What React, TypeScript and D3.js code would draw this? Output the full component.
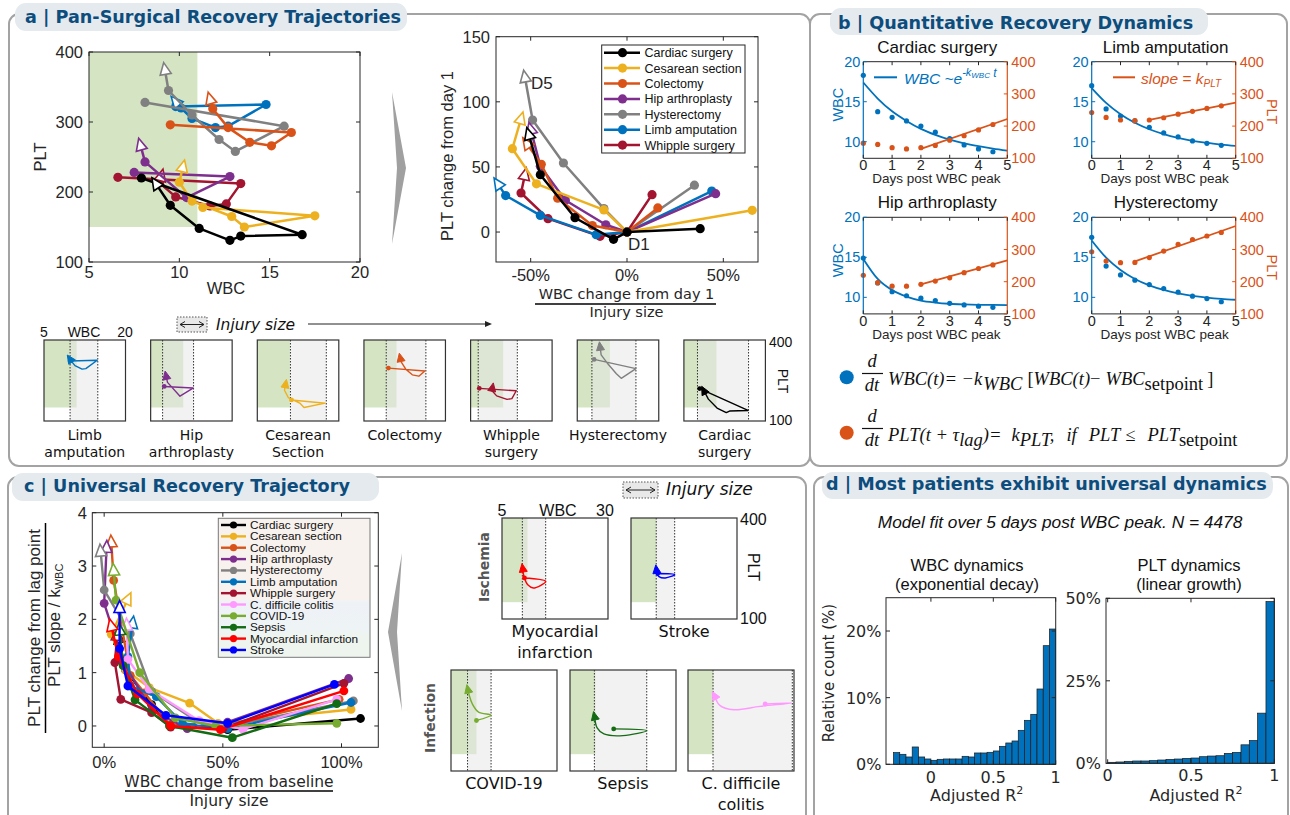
import React from 'react';
import * as d3 from 'd3';

const ARIAL = '"Liberation Sans", Arial, Helvetica, sans-serif';
const VERD = '"DejaVu Sans", Verdana, sans-serif';
const SERIF = '"Liberation Serif", "DejaVu Serif", serif';
const NAVY = '#0d4d7d';
const GREEN = '#d5e5c3';
const AX = '#262626';
const BLUE = '#0072BD';
const ORANGE = '#D95319';

// ---------- panel a ----------
const surgeries = ['Cardiac surgery', 'Cesarean section', 'Colectomy', 'Hip arthroplasty', 'Hysterectomy', 'Limb amputation', 'Whipple surgery'];
const surgeryColors = ['#000000', '#EDB120', '#D95319', '#7E2F8E', '#808080', '#0072BD', '#A2142F'];

// [WBC, PLT] from first dot to arrow
const trajCardiac = [[7.9, 220], [16.8, 139], [13.4, 137], [12.8, 131], [11.1, 148], [9.5, 181], [8.7, 212]];
const trajCesarean = [[11.3, 178], [17.5, 166], [13.6, 150], [12.9, 165], [10.7, 187], [10.0, 214], [10.2, 236]];
const trajColectomy = [[9.5, 296], [16.2, 285], [15.1, 266], [13.9, 271], [12.7, 292], [11.85, 319], [11.7, 333]];
const trajHip = [[7.5, 228], [12.8, 222], [10.4, 192], [8.1, 243], [7.85, 267]];
const trajHyst = [[8.1, 328], [15.8, 294], [13.1, 258], [12.2, 275], [10.7, 310], [9.4, 345], [9.2, 375]];
const trajLimb = [[9.8, 322], [14.8, 325], [12.7, 294], [12.0, 292], [10.7, 305], [10.1, 320], [9.8, 329]];
const trajWhipple = [[6.6, 221], [13.4, 212], [12.6, 183], [11.7, 180], [9.8, 193], [8.9, 213], [9.0, 223]];
const surgeryTraj = [trajCardiac, trajCesarean, trajColectomy, trajHip, trajHyst, trajLimb, trajWhipple];

// [WBC change / injury size, PLT change from day 1]
const normCardiac = [[0.38, 2.6], [0, 0], [-0.07, -5.6], [-0.27, 11], [-0.45, 44], [-0.51, 75]];
const normCesarean = [[0.65, 16.7], [0, 0], [-0.12, 17], [-0.47, 37], [-0.595, 64], [-0.55, 87]];
const normColectomy = [[0.16, 18.5], [0, 0], [-0.18, 5], [-0.36, 26], [-0.445, 52], [-0.52, 68]];
const normHip = [[0.46, 29.5], [0, 0], [-0.11, 5.6], [-0.32, 24.4], [-0.45, 50.5], [-0.5, 79]];
const normHyst = [[0.35, 36], [0, 0], [-0.12, 18], [-0.33, 53], [-0.49, 86], [-0.53, 119]];
const normLimb = [[0.44, 31.5], [0, 0], [-0.16, -2], [-0.45, 12.8], [-0.63, 28], [-0.67, 37]];
const normWhipple = [[0.13, 28.7], [0, 0], [-0.14, -3.3], [-0.41, 10.3], [-0.55, 30], [-0.53, 44]];
const surgeryNorm = [normCardiac, normCesarean, normColectomy, normHip, normHyst, normLimb, normWhipple];

// injury size band (WBC from -> to) for the small multiples
const injuryBandsA = [[7.5, 16.9], [11.1, 17.7], [9.1, 16.4], [7.2, 12.9], [7.7, 15.8], [9.8, 14.9], [6.4, 13.6]];
const smallOrder = ['Limb amputation', 'Hip arthroplasty', 'Cesarean section', 'Colectomy', 'Whipple surgery', 'Hysterectomy', 'Cardiac surgery'];
const smallLabels = [['Limb', 'amputation'], ['Hip', 'arthroplasty'], ['Cesarean', 'Section'], ['Colectomy'], ['Whipple', 'surgery'], ['Hysterectomy'], ['Cardiac', 'surgery']];

// ---------- panel b ----------
const bTitles = ['Cardiac surgery', 'Limb amputation', 'Hip arthroplasty', 'Hysterectomy'];
const dotDays = [0, 0.5, 1, 1.5, 2, 2.5, 3, 3.5, 4, 4.5];
const fitDays = [0, 0.5, 1, 1.5, 2, 2.5, 3, 3.5, 4, 4.5, 5];
const wbcDots = [
  [18.3, 13.75, 13.05, 12.6, 11.96, 11.2, 10.4, 9.6, 9.1, 8.75],
  [17.0, 14.1, 13.2, 12.6, 11.8, 11.1, 10.6, 10.1, 9.8, 9.55],
  [14.9, 11.8, 10.7, 10.2, 9.9, 9.6, 9.25, 9.05, 8.9, 8.75],
  [17.5, 13.9, 12.8, 12.15, 11.6, 11.1, 10.65, 10.15, 9.85, 9.45],
];
const pltDots = [
  [147, 143, 133, 129, 133, 140, 156, 170, 188, 205],
  [242, 227, 219, 217, 219, 226, 237, 246, 255, 263],
  [220, 197, 186, 186, 192, 202, 212, 228, 241, 252],
  [293, 264, 259, 260, 275, 295, 316, 331, 342, 353],
];
const wbcFit = [
  [17.4, 15.4, 13.8, 12.6, 11.6, 10.85, 10.25, 9.8, 9.45, 9.15, 8.9],
  [16.7, 14.85, 13.44, 12.37, 11.56, 10.95, 10.48, 10.12, 9.85, 9.65, 9.49],
  [14.8, 12.3, 10.9, 10.1, 9.6, 9.35, 9.2, 9.12, 9.07, 9.05, 9.03],
  [17.1, 14.96, 13.42, 12.3, 11.5, 10.92, 10.5, 10.19, 9.97, 9.81, 9.7],
];
// [lag day, PLT at lag, PLT at day 5]
const pltFit = [[2, 129, 222], [2, 219, 273], [2, 192, 266], [1.5, 263, 373]];

// ---------- panel c ----------
const conditions = ['Cardiac surgery', 'Cesarean section', 'Colectomy', 'Hip arthroplasty', 'Hysterectomy', 'Limb amputation', 'Whipple surgery', 'C. difficile colitis', 'COVID-19', 'Sepsis', 'Myocardial infarction', 'Stroke'];
const conditionColors = ['#000000', '#EDB120', '#D95319', '#7E2F8E', '#808080', '#0072BD', '#A2142F', '#FF99FF', '#77AC30', '#136B13', '#FF0000', '#0000FF'];
const uCardiac = [[1.08, 0.14], [0.52, -0.07], [0.40, 0.03], [0.28, 0.0], [0.20, 0.40], [0.09, 1.05], [0.06, 1.65]];
const uCesarean = [[1.04, 0.31], [0.48, 0.05], [0.36, 0.43], [0.19, 0.72], [0.09, 1.05], [0.03, 1.72], [0.10, 2.38]];
const uColectomy = [[0.99, 0.5], [0.50, 0.0], [0.28, 0.02], [0.17, 0.62], [0.11, 0.95], [0.04, 2.73], [0.03, 3.45]];
const uHip = [[1.03, 0.89], [0.52, 0.07], [0.35, -0.05], [0.20, 0.30], [0.08, 1.2], [0.0, 2.3], [0.01, 3.35]];
const uHyst = [[1.05, 0.47], [0.55, 0.02], [0.40, 0.06], [0.20, 0.65], [0.11, 1.73], [0.0, 2.55], [-0.015, 3.28]];
const uLimb = [[1.04, 0.44], [0.52, -0.05], [0.33, 0.05], [0.22, 0.55], [0.11, 0.75], [0.10, 1.3], [0.12, 1.93]];
const uWhipple = [[1.01, 0.8], [0.50, -0.05], [0.28, -0.02], [0.20, 0.25], [0.07, 0.5], [0.045, 1.19], [0.055, 1.7]];
const uCdiff = [[0.98, 0.5], [0.585, -0.06], [0.40, 0.10], [0.19, 0.69], [0.10, 1.25], [0.095, 1.89]];
const uCovid = [[0.98, 0.05], [0.47, 0.0], [0.30, 0.15], [0.15, 1.0], [0.05, 2.36], [0.04, 2.92]];
const uSepsis = [[0.98, 0.42], [0.54, -0.22], [0.275, 0.0], [0.13, 0.49], [0.08, 1.13], [0.065, 1.8]];
const uMI = [[1.01, 0.66], [0.49, -0.07], [0.28, 0.0], [0.14, 0.6], [0.06, 1.3], [0.03, 1.88]];
const uStroke = [[0.97, 0.78], [0.52, 0.05], [0.26, 0.2], [0.10, 0.75], [0.065, 1.45], [0.065, 2.22]];
const universal = [uCardiac, uCesarean, uColectomy, uHip, uHyst, uLimb, uWhipple, uCdiff, uCovid, uSepsis, uMI, uStroke];

const miniC = ['Myocardial infarction', 'Stroke', 'COVID-19', 'Sepsis', 'C. difficile colitis'];
const miniCLabels = [['Myocardial', 'infarction'], ['Stroke'], ['COVID-19'], ['Sepsis'], ['C. difficile', 'colitis']];
const miniCBands = [[9.8, 15.3], [10.95, 15.3], [8.9, 14.45], [10.75, 23.1], [10.9, 29.6]];
const miniCTraj = [
  [[10.3, 222], [15.3, 212], [12.4, 192], [11.2, 200], [10.2, 225], [9.9, 250]],
  [[11.3, 235], [15.3, 232], [13.1, 222], [11.6, 226], [11.1, 236], [11.0, 246]],
  [[11.0, 250], [14.4, 266], [11.5, 275], [10.0, 300], [9.3, 325], [9.0, 342]],
  [[15.3, 225], [23.1, 220], [17.5, 205], [13.0, 210], [11.4, 228], [10.8, 262]],
  [[23.2, 299], [29.4, 302], [22.0, 292], [15.8, 282], [12.5, 295], [11.3, 323]],
];

// ---------- panel d ----------
const wbcR2Start = -0.3;
const pltR2Start = 0;
const r2BinWidth = 0.05;
const wbcR2Counts = [1.75, 1.5, 1.1, 2.6, 1.1, 0.8, 0.6, 0.75, 0.8, 0.8, 0.8, 1.2, 1.1, 1.7, 1.7, 1.8, 2.0, 2.7, 3.2, 3.5, 5.1, 6.6, 7.5, 11.3, 17.8, 20.3];
const pltR2Counts = [0.3, 0.4, 0.6, 0.7, 0.7, 0.8, 1.0, 1.2, 1.3, 1.5, 1.6, 2.0, 2.2, 2.3, 3.0, 3.3, 5.6, 6.9, 15.2, 49.0];

// ---------- helpers ----------
function triPath(x: number, y: number, ang: number, s: number) {
  const c = Math.cos(ang), n = Math.sin(ang);
  const p = (a: number, b: number) => `${x + a * c - b * n},${y + a * n + b * c}`;
  return `M${p(s, 0)}L${p(-0.7 * s, 0.8 * s)}L${p(-0.7 * s, -0.8 * s)}Z`;
}

function Traj({ pts, xs, ys, color, lw, r, ts, open, dots, curve }: any) {
  const px = pts.map((d: number[]) => [xs(d[0]), ys(d[1])]);
  const n = px.length;
  const gen = d3.line().curve(curve || d3.curveLinear);
  const ang = Math.atan2(px[n - 1][1] - px[n - 2][1], px[n - 1][0] - px[n - 2][0]);
  const dp = dots ? px.slice(0, n - 1) : [px[0]];
  return (
    <g>
      <path d={gen(px) || ''} fill="none" stroke={color} strokeWidth={lw} strokeLinejoin="round" strokeLinecap="round" />
      {dp.map((p: number[], k: number) => <circle key={k} cx={p[0]} cy={p[1]} r={r} fill={color} />)}
      <path d={triPath(px[n - 1][0], px[n - 1][1], ang, ts)} fill={open ? '#fff' : color} stroke={color} strokeWidth={open ? 1.6 : 1} />
    </g>
  );
}

function Frame({ xs, ys, xt, yt, len = 4 }: any) {
  const [x0, x1] = xs.range();
  const [y0, y1] = ys.range();
  return (
    <g stroke={AX} strokeWidth={1} fill="none">
      <rect x={x0} y={y1} width={x1 - x0} height={y0 - y1} />
      {xt.map((t: number) => <path key={'x' + t} d={`M${xs(t)},${y0}v${-len}M${xs(t)},${y1}v${len}`} />)}
      {yt.map((t: number) => <path key={'y' + t} d={`M${x0},${ys(t)}h${len}M${x1},${ys(t)}h${-len}`} />)}
    </g>
  );
}

function Mini({ x0, y0, w, h, xmax, band, pts, color, smooth }: any) {
  const sx = d3.scaleLinear().domain([5, xmax]).range([x0, x0 + w]);
  const sy = d3.scaleLinear().domain([100, 400]).range([y0 + h, y0]);
  return (
    <g>
      <rect x={x0} y={y0} width={w} height={h} fill="#fff" />
      <rect x={sx(5)} y={sy(400)} width={sx(11) - sx(5)} height={sy(150) - sy(400)} fill={GREEN} />
      <rect x={sx(band[0])} y={y0} width={sx(band[1]) - sx(band[0])} height={h} fill="#e6e6e6" opacity={0.5} />
      <path d={`M${sx(band[0])},${y0}V${y0 + h}M${sx(band[1])},${y0}V${y0 + h}`} stroke="#333" strokeWidth={1} strokeDasharray="1.5,1.5" />
      <Traj pts={pts} xs={sx} ys={sy} color={color} lw={1.4} r={2.4} ts={5} open={false} dots={false} curve={smooth ? d3.curveCatmullRom : d3.curveLinear} />
      <rect x={x0} y={y0} width={w} height={h} fill="none" stroke="#333" strokeWidth={1.2} />
    </g>
  );
}

function InjuryIcon({ x, y, w, h }: any) {
  const cy = y + h / 2;
  return (
    <g>
      <rect x={x} y={y} width={w} height={h} fill="#e8e8e8" stroke="#555" strokeDasharray="1.5,1.5" />
      <path d={`M${x + 3},${cy}H${x + w - 3}`} stroke="#222" strokeWidth={1} />
      <path d={`M${x + 3},${cy}l5,-3M${x + 3},${cy}l5,3M${x + w - 3},${cy}l-5,-3M${x + w - 3},${cy}l-5,3`} stroke="#222" strokeWidth={1} fill="none" />
    </g>
  );
}

// ---------- panels ----------
function Frames() {
  const boxes = [
    { x: 9, y: 14, w: 801, h: 452 },
    { x: 810, y: 14, w: 477, h: 452 },
    { x: 8, y: 477, w: 798, h: 360 },
    { x: 814, y: 477, w: 474, h: 360 },
  ];
  const tabs = [
    { x: 15, y: 3, w: 392, h: 28, tx: 25, ty: 23, s: 'a | Pan-Surgical Recovery Trajectories' },
    { x: 830, y: 8, w: 378, h: 27, tx: 838, ty: 28.5, s: 'b | Quantitative Recovery Dynamics' },
    { x: 12, y: 473, w: 367, h: 28, tx: 24, ty: 491.5, s: 'c | Universal Recovery Trajectory' },
    { x: 822, y: 472, w: 451, h: 27, tx: 826, ty: 490, s: 'd | Most patients exhibit universal dynamics' },
  ];
  return (
    <g>
      {boxes.map((b, i) => <rect key={i} x={b.x} y={b.y} width={b.w} height={b.h} rx={10} fill="none" stroke="#a3a3a3" strokeWidth={2} />)}
      {tabs.map((t, i) => (
        <g key={i}>
          <rect x={t.x} y={t.y} width={t.w} height={t.h} rx={11} fill="#e4eaee" />
          <text x={t.tx} y={t.ty} fontFamily={VERD} fontWeight="bold" fontSize={17.6} fill={NAVY}>{t.s}</text>
        </g>
      ))}
      <path d="M392,92 L406,168 L392,244 L397,168 Z" fill="#a0a0a0" />
      <path d="M402,553 L388,632 L402,711 L397,632 Z" fill="#a0a0a0" />
    </g>
  );
}

function PanelA() {
  const xs = d3.scaleLinear().domain([5, 20]).range([89, 360]);
  const ys = d3.scaleLinear().domain([100, 400]).range([262, 52]);
  const xr = d3.scaleLinear().domain([-0.68, 0.68]).range([496, 758]);
  const yr = d3.scaleLinear().domain([-23, 150]).range([262, 36.7]);
  const order = d3.range(surgeries.length).reverse();
  return (
    <g>
      {/* left scatter */}
      <rect x={xs(5)} y={ys(400)} width={xs(11) - xs(5)} height={ys(150) - ys(400)} fill={GREEN} />
      <Frame xs={xs} ys={ys} xt={[5, 10, 15, 20]} yt={[100, 200, 300, 400]} />
      {order.map(i => <Traj key={i} pts={surgeryTraj[i]} xs={xs} ys={ys} color={surgeryColors[i]} lw={2.5} r={4.6} ts={7} open dots />)}
      <g fontFamily={ARIAL} fontSize={16.5} fill="#262626">
        {[5, 10, 15, 20].map(t => <text key={t} x={xs(t)} y={278} textAnchor="middle">{t}</text>)}
        {[100, 200, 300, 400].map(t => <text key={t} x={83} y={ys(t) + 6} textAnchor="end">{t}</text>)}
        <text x={226} y={294} textAnchor="middle">WBC</text>
        <text x={46} y={157} textAnchor="middle" transform="rotate(-90,46,157)">PLT</text>
      </g>

      {/* right normalized */}
      <Frame xs={xr} ys={yr} xt={[-0.5, 0, 0.5]} yt={[0, 50, 100, 150]} />
      {order.map(i => <Traj key={i} pts={surgeryNorm[i]} xs={xr} ys={yr} color={surgeryColors[i]} lw={2.5} r={4.6} ts={7} open dots />)}
      <g fontFamily={ARIAL} fontSize={16.5} fill="#262626">
        {[-0.5, 0, 0.5].map(t => <text key={t} x={xr(t)} y={281} textAnchor="middle">{t < 0 ? '-' : ''}{Math.abs(t * 100)}%</text>)}
        {[0, 50, 100, 150].map(t => <text key={t} x={490} y={yr(t) + 6} textAnchor="end">{t}</text>)}
        <text x={453} y={156} textAnchor="middle" transform="rotate(-90,453,156)">PLT change from day 1</text>
        <text x={531} y={88.5} fontSize={17}>D5</text>
        <text x={628} y={250} fontSize={17}>D1</text>
      </g>
      <g fontFamily={VERD} fontSize={14.5} fill="#262626">
        <text x={626.5} y={299} textAnchor="middle">WBC change from day 1</text>
        <line x1={535} x2={716} y1={304} y2={304} stroke="#000" strokeWidth={1.5} />
        <text x={626.5} y={316.5} textAnchor="middle">Injury size</text>
      </g>
      <rect x={601.7} y={45} width={143.3} height={108} fill="#fff" stroke={AX} />
      {surgeries.map((s, i) => {
        const y = 52.7 + i * 15.4;
        return (
          <g key={s}>
            <line x1={604} x2={640} y1={y} y2={y} stroke={surgeryColors[i]} strokeWidth={2.5} />
            <circle cx={622.5} cy={y} r={4.6} fill={surgeryColors[i]} />
            <text x={644.5} y={y + 4.5} fontFamily={ARIAL} fontSize={12.5} fill="#111">{s}</text>
          </g>
        );
      })}

      {/* small multiples */}
      {smallOrder.map((name, k) => {
        const i = surgeries.indexOf(name);
        const x0 = 44 + k * 106.65;
        return (
          <g key={name}>
            <Mini x0={x0} y0={340} w={81.5} h={81} xmax={20} band={injuryBandsA[i]} pts={surgeryTraj[i]} color={surgeryColors[i]} />
            {smallLabels[k].map((l, j) => (
              <text key={j} x={x0 + 40.75} y={440 + j * 17} textAnchor="middle" fontFamily={VERD} fontSize={14} fill="#111">{l}</text>
            ))}
          </g>
        );
      })}
      <g fontFamily={ARIAL} fontSize={14} fill="#111">
        <text x={44} y={337} textAnchor="middle">5</text>
        <text x={84} y={337} textAnchor="middle">WBC</text>
        <text x={125} y={337} textAnchor="middle">20</text>
        <text x={769} y={347}>400</text>
        <text x={769} y={425}>100</text>
        <text x={778} y={381} textAnchor="middle" transform="rotate(90,778,381)">PLT</text>
      </g>
      <InjuryIcon x={177} y={317} w={30} h={15} />
      <text x={216} y={330} fontFamily={VERD} fontStyle="italic" fontSize={15.5} fill="#111">Injury size</text>
      <line x1={308} x2={489} y1={324} y2={324} stroke="#222" strokeWidth={1} />
      <path d="M492,324 l-7,-3 v6 z" fill="#222" />
    </g>
  );
}

function DualChart({ k }: any) {
  const origins = [[863.3, 61.7], [1091.7, 61.7], [863.3, 217.3], [1091.7, 217.3]];
  const [ox, oy] = origins[k];
  const w = 144, h = 96.6;
  const xs = d3.scaleLinear().domain([0, 5]).range([ox, ox + w]);
  const yl = d3.scaleLinear().domain([7.93, 20]).range([oy + h, oy]);
  const yr = d3.scaleLinear().domain([100, 400]).range([oy + h, oy]);
  const fit = d3.line<number>().curve(d3.curveMonotoneX).x((d, i) => xs(fitDays[i])).y(d => yl(d));
  const [t0, p0, p1] = pltFit[k];
  const L = 3.5;
  return (
    <g>
      <path d={fit(wbcFit[k]) || ''} fill="none" stroke={BLUE} strokeWidth={1.8} />
      <line x1={xs(t0)} y1={yr(p0)} x2={xs(5)} y2={yr(p1)} stroke={ORANGE} strokeWidth={1.8} />
      {dotDays.map((t, i) => <circle key={'w' + i} cx={xs(t)} cy={yl(wbcDots[k][i])} r={2.6} fill={BLUE} />)}
      {dotDays.map((t, i) => <circle key={'p' + i} cx={xs(t)} cy={yr(pltDots[k][i])} r={2.6} fill={ORANGE} />)}
      <path d={`M${ox},${oy}H${ox + w}M${ox},${oy + h}H${ox + w}`} stroke={AX} strokeWidth={1} />
      <path d={`M${ox},${oy}V${oy + h}`} stroke={BLUE} strokeWidth={1.2} />
      <path d={`M${ox + w},${oy}V${oy + h}`} stroke={ORANGE} strokeWidth={1.2} />
      {[0, 1, 2, 3, 4, 5].map(t => <path key={t} d={`M${xs(t)},${oy + h}v${-L}M${xs(t)},${oy}v${L}`} stroke={AX} />)}
      {[10, 15, 20].map(t => <path key={t} d={`M${ox},${yl(t)}h${L}`} stroke={BLUE} />)}
      {[100, 200, 300, 400].map(t => <path key={t} d={`M${ox + w},${yr(t)}h${-L}`} stroke={ORANGE} />)}
      <g fontFamily={ARIAL} fontSize={14.5}>
        {[10, 15, 20].map(t => <text key={t} x={ox - 3} y={yl(t) + 5} textAnchor="end" fill={BLUE}>{t}</text>)}
        {[100, 200, 300, 400].map(t => <text key={t} x={ox + w + 4} y={yr(t) + 5} fill={ORANGE}>{t}</text>)}
        {[0, 1, 2, 3, 4, 5].map(t => <text key={t} x={xs(t)} y={oy + h + 12} textAnchor="middle" fill="#262626">{t}</text>)}
      </g>
      <text x={ox + 73} y={oy + h + 25} textAnchor="middle" fontFamily={ARIAL} fontSize={13.5} fill="#262626">Days post WBC peak</text>
      <text x={ox + 74} y={oy - 9} textAnchor="middle" fontFamily={ARIAL} fontSize={17} fill="#111">{bTitles[k]}</text>
      {k % 2 === 0 ? (
        <text x={843} y={oy + 43} textAnchor="middle" fontFamily={ARIAL} fontSize={14.5} fill={BLUE} transform={`rotate(-90,843,${oy + 43})`}>WBC</text>
      ) : (
        <text x={1267} y={oy + 50} textAnchor="middle" fontFamily={ARIAL} fontSize={14.5} fill={ORANGE} transform={`rotate(90,1267,${oy + 50})`}>PLT</text>
      )}
    </g>
  );
}

function PanelB() {
  const it = { fontFamily: SERIF, fontStyle: 'italic', fontSize: 18.5, fill: '#111' } as any;
  return (
    <g>
      {[0, 1, 2, 3].map(k => <DualChart key={k} k={k} />)}
      {/* legends */}
      <line x1={874} x2={897} y1={77.3} y2={77.3} stroke={BLUE} strokeWidth={2} />
      <text x={904} y={83.5} fontFamily={ARIAL} fontStyle="italic" fontSize={15.5} fill={BLUE}>
        WBC ~e<tspan dy={-8} fontSize={11}>-k</tspan><tspan dy={2} fontSize={8}>WBC</tspan><tspan dy={-1} fontSize={12}> t</tspan>
      </text>
      <line x1={1113} x2={1135} y1={77.3} y2={77.3} stroke={ORANGE} strokeWidth={2} />
      <text x={1141} y={83.5} fontFamily={ARIAL} fontStyle="italic" fontSize={15.5} fill={ORANGE}>
        slope = k<tspan dy={3} fontSize={10}>PLT</tspan>
      </text>

      {/* equation 1 */}
      <circle cx={846.7} cy={377.3} r={7} fill={BLUE} />
      <text x={872} y={366.5} textAnchor="middle" {...it}>d</text>
      <line x1={862} x2={883} y1={373.5} y2={373.5} stroke="#111" strokeWidth={1.2} />
      <text x={872} y={391} textAnchor="middle" {...it}>dt</text>
      <text x={888} y={385} {...it}>
        WBC(t)= −k<tspan dy={5} dx={1}>WBC</tspan>
        <tspan dy={-5} dx={5} fontStyle="normal">[</tspan>
        <tspan>WBC(t)</tspan>
        <tspan fontStyle="normal">−</tspan>
        <tspan dx={5}>WBC</tspan>
        <tspan dy={5} fontStyle="normal">setpoint</tspan>
        <tspan dy={-5} dx={4} fontStyle="normal">]</tspan>
      </text>

      {/* equation 2 */}
      <circle cx={846.7} cy={432.7} r={7} fill={ORANGE} />
      <text x={872} y={421.5} textAnchor="middle" {...it}>d</text>
      <line x1={862} x2={883} y1={428.5} y2={428.5} stroke="#111" strokeWidth={1.2} />
      <text x={872} y={446} textAnchor="middle" {...it}>dt</text>
      <text x={888} y={441} {...it}>
        PLT(t + τ<tspan dy={5}>lag</tspan>
        <tspan dy={-5}>)=</tspan>
        <tspan dx={10}>k</tspan>
        <tspan dy={5}>PLT</tspan>
        <tspan dy={-5}>,</tspan>
        <tspan dx={12}>if</tspan>
        <tspan dx={12}>PLT</tspan>
        <tspan dx={5} fontStyle="normal">≤</tspan>
        <tspan dx={12}>PLT</tspan>
        <tspan dy={5} fontStyle="normal">setpoint</tspan>
      </text>
    </g>
  );
}

function PanelC() {
  const xs = d3.scaleLinear().domain([-0.05, 1.155]).range([92.3, 378.3]);
  const ys = d3.scaleLinear().domain([-0.4, 4]).range([747.3, 512.7]);
  const lx = 218.3, ly = 518.3, lw = 151.7, lh = 139;
  const miniPos = [[502, 518], [631, 518], [451, 670], [570, 670], [688, 670]];
  return (
    <g>
      <defs>
        <linearGradient id="legc" x1="0" x2="0" y1="0" y2="1">
          <stop offset="0" stopColor="#f8f2ee" />
          <stop offset="0.58" stopColor="#f8f2ee" />
          <stop offset="0.6" stopColor="#eef2f7" />
          <stop offset="0.8" stopColor="#eef3f5" />
          <stop offset="0.84" stopColor="#eef5ef" />
          <stop offset="1" stopColor="#eef5ef" />
        </linearGradient>
      </defs>
      <Frame xs={xs} ys={ys} xt={[0, 0.5, 1]} yt={[0, 1, 2, 3, 4]} />
      {universal.map((pts, i) => <Traj key={i} pts={pts} xs={xs} ys={ys} color={conditionColors[i]} lw={2.4} r={4.4} ts={7} open dots />)}
      <g fontFamily={ARIAL} fontSize={16.5} fill="#262626">
        {[0, 0.5, 1].map(t => <text key={t} x={xs(t)} y={767.5} textAnchor="middle">{t * 100}%</text>)}
        {[0, 1, 2, 3, 4].map(t => <text key={t} x={87} y={ys(t) + 6} textAnchor="end">{t}</text>)}
        <text x={40} y={628} fontSize={17} textAnchor="middle" transform="rotate(-90,40,628)">PLT change from lag point</text>
        <line x1={45.5} x2={45.5} y1={523} y2={733} stroke="#000" strokeWidth={1.5} />
        <text x={60} y={687} fontSize={17} transform="rotate(-90,60,687)">PLT slope / k<tspan dy={3} fontSize={11}>WBC</tspan></text>
      </g>
      <g fontFamily={VERD} fontSize={15.5} fill="#262626">
        <text x={229} y={786.5} textAnchor="middle">WBC change from baseline</text>
        <line x1={125} x2={333} y1={791} y2={791} stroke="#000" strokeWidth={1.5} />
        <text x={229} y={805.5} textAnchor="middle">Injury size</text>
      </g>
      <rect x={lx} y={ly} width={lw} height={lh} fill="url(#legc)" stroke="#777" />
      {conditions.map((s, i) => {
        const y = 525 + i * 11.36;
        return (
          <g key={s}>
            <line x1={221} x2={246} y1={y} y2={y} stroke={conditionColors[i]} strokeWidth={2.4} />
            <circle cx={233.5} cy={y} r={3.6} fill={conditionColors[i]} />
            <text x={250} y={y + 4} fontFamily={ARIAL} fontSize={11.8} fill="#111">{s}</text>
          </g>
        );
      })}

      {/* small multiples */}
      {miniC.map((name, k) => {
        const ci = conditions.indexOf(name);
        const [x0, y0] = miniPos[k];
        return (
          <g key={name}>
            <Mini x0={x0} y0={y0} w={106} h={101} xmax={30} band={miniCBands[k]} pts={miniCTraj[k]} color={conditionColors[ci]} smooth />
            {miniCLabels[k].map((l, j) => (
              <text key={j} x={x0 + 53} y={y0 + 119 + j * 21} textAnchor="middle" fontFamily={VERD} fontSize={16} fill="#111">{l}</text>
            ))}
          </g>
        );
      })}
      <g fontFamily={ARIAL} fontSize={16} fill="#111">
        <text x={502} y={515.5} textAnchor="middle">5</text>
        <text x={558} y={515.5} textAnchor="middle">WBC</text>
        <text x={605} y={515.5} textAnchor="middle">30</text>
        <text x={740} y={525}>400</text>
        <text x={740} y={624}>100</text>
        <text x={748} y={567} textAnchor="middle" transform="rotate(90,748,567)">PLT</text>
      </g>
      <g fontFamily={VERD} fontWeight="bold" fontSize={14} fill="#555">
        <text x={489} y={567} textAnchor="middle" transform="rotate(-90,489,567)">Ischemia</text>
        <text x={435} y={718} textAnchor="middle" transform="rotate(-90,435,718)">Infection</text>
      </g>
      <InjuryIcon x={623} y={482} w={35} h={16} />
      <text x={666} y={495} fontFamily={VERD} fontStyle="italic" fontSize={17} fill="#111">Injury size</text>
    </g>
  );
}

function Hist({ xs, ys, start, counts }: any) {
  return (
    <g>
      {counts.map((c: number, i: number) => {
        const a = xs(start + i * r2BinWidth), b = xs(start + (i + 1) * r2BinWidth);
        return <rect key={i} x={a} y={ys(c / 100)} width={b - a} height={ys(0) - ys(c / 100)} fill={BLUE} stroke="#1a1a1a" strokeWidth={0.7} />;
      })}
    </g>
  );
}

function PanelD() {
  const x1 = d3.scaleLinear().domain([-0.36, 1]).range([886, 1055.7]);
  const y1 = d3.scaleLinear().domain([0, 0.25]).range([764.3, 597.7]);
  const x2 = d3.scaleLinear().domain([-0.01, 1]).range([1106, 1274.3]);
  const y2 = d3.scaleLinear().domain([0, 0.5]).range([763.3, 598.3]);
  const pct = d3.format('.0%');
  const f = (t: number) => (t === 0.5 ? '0.5' : String(t));
  return (
    <g>
      <text x={1060} y={528} textAnchor="middle" fontFamily={ARIAL} fontStyle="italic" fontSize={17.3} fill="#111">Model fit over 5 days post WBC peak. N = 4478</text>
      <g fontFamily={ARIAL} fontSize={16.5} fill="#111" textAnchor="middle">
        <text x={967} y={570.5}>WBC dynamics</text>
        <text x={967} y={589.5}>(exponential decay)</text>
        <text x={1189} y={570.5}>PLT dynamics</text>
        <text x={1189} y={589.5}>(linear growth)</text>
      </g>
      <Hist xs={x1} ys={y1} start={wbcR2Start} counts={wbcR2Counts} />
      <Hist xs={x2} ys={y2} start={pltR2Start} counts={pltR2Counts} />
      <Frame xs={x1} ys={y1} xt={[0, 0.5, 1]} yt={[0, 0.1, 0.2]} />
      <Frame xs={x2} ys={y2} xt={[0, 0.5, 1]} yt={[0, 0.25, 0.5]} />
      <g fontFamily={VERD} fontSize={16} fill="#262626">
        {[0, 0.1, 0.2].map(t => <text key={t} x={881.5} y={y1(t) + 6} textAnchor="end">{pct(t)}</text>)}
        {[0, 0.25, 0.5].map(t => <text key={t} x={1101} y={y2(t) + 6} textAnchor="end">{pct(t)}</text>)}
        {[0, 0.5, 1].map(t => <text key={t} x={x1(t)} y={783} textAnchor="middle">{f(t)}</text>)}
        {[0, 0.5, 1].map(t => <text key={t} x={x2(t)} y={781} textAnchor="middle">{f(t)}</text>)}
        <text x={976.7} y={801} textAnchor="middle">Adjusted R<tspan dy={-7} fontSize={11}>2</tspan></text>
        <text x={1196} y={801} textAnchor="middle">Adjusted R<tspan dy={-7} fontSize={11}>2</tspan></text>
        <text x={834} y={673} fontSize={15} textAnchor="middle" transform="rotate(-90,834,673)">Relative count (%)</text>
      </g>
    </g>
  );
}

export default function App() {
  return (
    <>
      <style>{'body{margin:0;}'}</style>
      <svg width={1290} height={815} style={{ display: 'block', background: '#fff' }}>
        <Frames />
        <PanelA />
        <PanelB />
        <PanelC />
        <PanelD />
      </svg>
    </>
  );
}
